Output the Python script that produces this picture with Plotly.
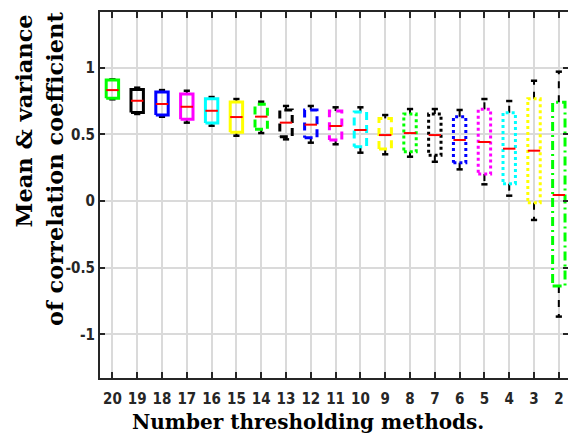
import plotly.graph_objects as go

# ---- data ----
labels = ["20", "19", "18", "17", "16", "15", "14", "13", "12", "11",
          "10", "9", "8", "7", "6", "5", "4", "3", "2"]
median = [0.831, 0.751, 0.727, 0.706, 0.676, 0.629, 0.632, 0.587, 0.572, 0.562,
          0.532, 0.494, 0.509, 0.494, 0.457, 0.442, 0.392, 0.377, 0.045]
q1 = [0.769, 0.664, 0.644, 0.612, 0.584, 0.515, 0.537, 0.482, 0.474, 0.457,
      0.407, 0.390, 0.369, 0.342, 0.287, 0.202, 0.130, -0.013, -0.637]
q3 = [0.906, 0.836, 0.816, 0.801, 0.766, 0.742, 0.724, 0.682, 0.682, 0.674,
      0.667, 0.619, 0.652, 0.652, 0.631, 0.687, 0.661, 0.766, 0.739]
whisk_lo = [0.762, 0.652, 0.631, 0.587, 0.564, 0.489, 0.509, 0.462, 0.437, 0.425,
            0.362, 0.350, 0.332, 0.294, 0.237, 0.125, 0.040, -0.142, -0.866]
whisk_hi = [0.911, 0.849, 0.831, 0.826, 0.779, 0.764, 0.744, 0.712, 0.712, 0.702,
            0.702, 0.644, 0.689, 0.689, 0.682, 0.764, 0.749, 0.901, 0.969]
colors = ["#00ff00", "#000000", "#0000ff", "#ff00ff", "#00ffff", "#ffff00"]
styles = ["solid", "8px,5px", "3px,3px", "9px,4px,2px,4px"]
ytick_vals = [-1, -0.5, 0, 0.5, 1]
ytick_text = ["-1", "-0.5", "0", "0.5", "1"]

BOX_W = 0.5
CAP_W = 0.25

fig = go.Figure()
positions = list(range(1, len(labels) + 1))

for i, x in enumerate(positions):
    col = colors[i % 6]
    dash = styles[i // 6]
    # whiskers (dashed black)
    fig.add_trace(go.Scatter(x=[x, x], y=[q3[i], whisk_hi[i]], mode="lines",
                             line=dict(color="#000000", width=2, dash="7px,7px"),
                             showlegend=False, hoverinfo="skip"))
    fig.add_trace(go.Scatter(x=[x, x], y=[q1[i], whisk_lo[i]], mode="lines",
                             line=dict(color="#000000", width=2, dash="7px,7px"),
                             showlegend=False, hoverinfo="skip"))
    # caps
    for v in (whisk_hi[i], whisk_lo[i]):
        fig.add_trace(go.Scatter(x=[x - CAP_W / 2, x + CAP_W / 2], y=[v, v], mode="lines",
                                 line=dict(color="#000000", width=2.5),
                                 showlegend=False, hoverinfo="skip"))
    # box
    xl, xr = x - BOX_W / 2, x + BOX_W / 2
    fig.add_trace(go.Scatter(x=[xl, xr, xr, xl, xl], y=[q1[i], q1[i], q3[i], q3[i], q1[i]],
                             mode="lines", line=dict(color=col, width=3, dash=dash),
                             showlegend=False, hoverinfo="skip"))
    # median
    fig.add_trace(go.Scatter(x=[xl, xr], y=[median[i], median[i]], mode="lines",
                             line=dict(color="#ff0000", width=2),
                             showlegend=False, hoverinfo="skip"))

# invisible trace for the right-hand y axis (ticks only)
fig.add_trace(go.Scatter(x=[1], y=[0], yaxis="y2", mode="markers",
                         marker=dict(opacity=0), showlegend=False, hoverinfo="skip"))

tick_font = dict(family="DejaVu Sans Condensed, Liberation Sans Narrow, sans-serif",
                 size=15, color="#262626", weight="bold")
xtitle_font = dict(family="DejaVu Serif, serif", size=20, color="#000000", weight="bold")
ytitle_font = dict(family="DejaVu Serif, serif", size=22.5, color="#000000", weight="bold")
YR = [-1.326, 1.416]

fig.update_layout(
    width=568, height=439,
    margin=dict(l=100, r=0, t=12, b=61, autoexpand=False),
    paper_bgcolor="white", plot_bgcolor="white",
    xaxis=dict(range=[0.5, 19.37], tickvals=positions, ticktext=labels,
               ticks="inside", ticklen=6, tickwidth=2, tickcolor="#262626",
               showline=True, linecolor="#262626", linewidth=2, mirror="ticks",
               showgrid=True, gridcolor="#dadada", gridwidth=1.5, zeroline=False,
               tickfont=tick_font, ticklabelstandoff=6, automargin=False),
    yaxis=dict(range=YR, tickvals=ytick_vals, ticktext=ytick_text,
               ticks="inside", ticklen=5, tickwidth=2, tickcolor="#262626",
               showline=True, linecolor="#262626", linewidth=2,
               showgrid=True, gridcolor="#dadada", gridwidth=1.5, zeroline=False,
               tickfont=tick_font, automargin=False),
    yaxis2=dict(range=YR, overlaying="y", side="right", tickvals=ytick_vals,
                ticks="inside", ticklen=5, tickwidth=2, tickcolor="#262626",
                showticklabels=False, showline=False, showgrid=False, zeroline=False,
                automargin=False),
    annotations=[
        dict(text="Number thresholding methods.", xref="paper", yref="paper",
             x=0.5, y=0, xanchor="center", yanchor="middle", xshift=-26, yshift=-44,
             showarrow=False, font=xtitle_font),
        dict(text="Mean & variance", textangle=-90, xref="paper", yref="paper",
             x=0, y=1, xshift=-77, yshift=-1, xanchor="center", yanchor="top",
             showarrow=False, font=ytitle_font),
        dict(text="of correlation coefficient", textangle=-90, xref="paper", yref="paper",
             x=0, y=1, xshift=-45, yshift=2, xanchor="center", yanchor="top",
             showarrow=False, font=ytitle_font),
    ],
)

fig.write_html("out.html", config={"displayModeBar": False},
               post_script="document.body.style.margin='0px';")
